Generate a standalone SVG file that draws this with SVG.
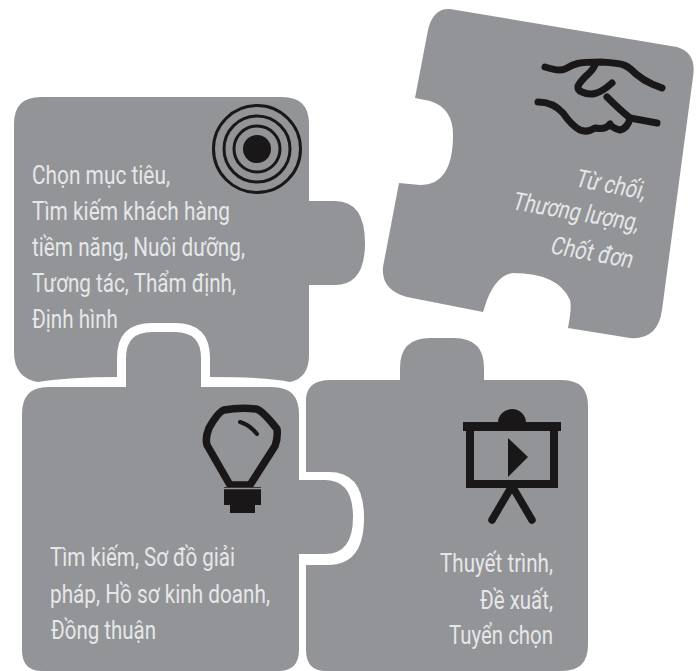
<svg xmlns="http://www.w3.org/2000/svg" width="696" height="671" viewBox="0 0 696 671">
<style>
.p{fill:#929497}
.t{font-family:Roboto,"Noto Sans",sans-serif;font-size:25px;fill:#e6e7e8}
.i{fill:none;stroke:#1a1718;stroke-linecap:round;stroke-linejoin:round}
.b{fill:#1a1718}
</style>
<rect width="696" height="671" fill="#fff"/>
<g id="piece-1">
<path class="p" d="M41 97H282Q309 97 309 124V201H335Q365 201 365 243T335 285H309V355Q309 378 290 382Q270 377 210 377V358Q210 323 175 323H152Q117 323 117 358V377Q70 377 38 382Q14 378 14 352V124Q14 97 41 97Z"/>
<circle cx="257" cy="149" r="43.500" class="i" stroke-width="3"/>
<circle cx="257" cy="149" r="33" class="i" stroke-width="3"/>
<circle cx="257" cy="149" r="23" class="i" stroke-width="3"/>
<circle cx="257" cy="149" r="14" class="b"/>
<text class="t" x="32" y="184" textLength="138" lengthAdjust="spacingAndGlyphs">Chọn mục tiêu,</text>
<text class="t" x="32" y="220" textLength="198" lengthAdjust="spacingAndGlyphs">Tìm kiếm khách hàng</text>
<text class="t" x="32" y="256" textLength="213" lengthAdjust="spacingAndGlyphs">tiềm năng, Nuôi dưỡng,</text>
<text class="t" x="32" y="292" textLength="204" lengthAdjust="spacingAndGlyphs">Tương tác, Thẩm định,</text>
<text class="t" x="32" y="328" textLength="86" lengthAdjust="spacingAndGlyphs">Định hình</text>
</g>
<g id="piece-2">
<path class="p" d="M48 387H126V358Q126 332 152 332H175Q201 332 201 358V387H272Q299 387 299 414V480H325Q353 480 353 517T325 554H299V650Q299 671 278 671H42Q22 671 22 650V414Q22 387 48 387Z"/>
<path class="i" stroke-width="7.500" d="M224 410Q240 407 256 409Q262 410 277 429Q278 438 275 446L250 485H230L207 445Q205 438 209 428Q218 412 224 410Z"/>
<path class="i" stroke-width="4" d="M240 422Q250 425 257 434"/>
<path class="b" d="M224 487H261V505H255V513H230V505H224Z"/>
<path d="M224 488.500H261" stroke="#929497" stroke-width="1.500"/>
<text class="t" x="50" y="566" textLength="185" lengthAdjust="spacingAndGlyphs">Tìm kiếm, Sơ đồ giải</text>
<text class="t" x="50" y="603" textLength="220" lengthAdjust="spacingAndGlyphs">pháp, Hồ sơ kinh doanh,</text>
<text class="t" x="51" y="639" textLength="105" lengthAdjust="spacingAndGlyphs">Đồng thuận</text>
</g>
<g id="piece-3">
<path class="p" d="M330 380H400V368Q400 338 430 338H454Q484 338 484 368V380H562Q588 380 588 406V645Q588 671 562 671H326Q306 671 306 650V565H328Q364 565 364 518T328 472H306V398Q308 380 330 380Z"/>
<rect x="470" y="427" width="84" height="57" fill="none" stroke="#1a1718" stroke-width="8"/>
<path class="b" d="M463 422H561V431H463ZM498 423A14 14 0 0 1 526 423Z"/>
<path class="b" d="M508 438L528 457L508 477Z"/>
<path class="i" stroke-width="7.500" d="M512 486L492 520M512 486L532 520"/>
<text class="t" x="440" y="572" textLength="113" lengthAdjust="spacingAndGlyphs">Thuyết trình,</text>
<text class="t" x="480" y="609" textLength="73" lengthAdjust="spacingAndGlyphs">Đề xuất,</text>
<text class="t" x="449" y="644" textLength="104" lengthAdjust="spacingAndGlyphs">Tuyển chọn</text>
</g>
<g id="piece-4">
<path class="p" d="M450 9L677 47Q697 53 693 77L662 310Q658 340 630 338L568 328Q572 307 570 300Q558 273 513 273Q497 275 487 300L483 312L407 297Q381 290 383 267L399 183L420 185Q453 185 453 135Q453 108 430 101L415 98L428 30Q433 8 450 9Z"/>
<path class="i" stroke-width="7" d="M545 67Q560 72 566 68.500Q572 65 577.500 63.500Q583 62 601 62Q620 63 625 65.500Q630 68 636 74Q643 80 652 84L662 88"/>
<path class="i" stroke-width="7" d="M595 65Q593 70 586 76Q580 82 578 86Q577 90 582 92Q588 95 595 93.500Q602 92 612 83"/>
<path class="i" stroke-width="7" d="M607 97Q620 110 630 118Q628 128 620 130Q612 128 610 124Q606 130 595 128Q587 133 580 130Q572 126 563 113Q553 102 538 102"/>
<path class="i" stroke-width="7" d="M630 118L657 123"/>
<text class="t" transform="translate(574 186) rotate(11) skewX(-8)" textLength="71" lengthAdjust="spacingAndGlyphs">Từ chối,</text>
<text class="t" transform="translate(511 209) rotate(10) skewX(-8)" textLength="128" lengthAdjust="spacingAndGlyphs">Thương lượng,</text>
<text class="t" transform="translate(549 253) rotate(10.500) skewX(-8)" textLength="83" lengthAdjust="spacingAndGlyphs">Chốt đơn</text>
</g>
<g id="connectors"/>
</svg>
